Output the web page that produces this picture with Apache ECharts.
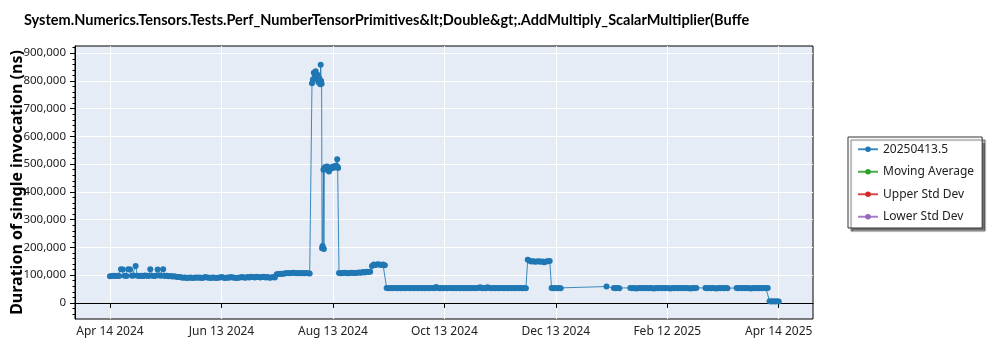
<!DOCTYPE html>
<html>
<head>
<meta charset="utf-8">
<script src="https://cdn.jsdelivr.net/npm/echarts@6/dist/echarts.min.js"></script>
<style>
html,body{margin:0;padding:0;background:#fff;}
#chart{width:1000px;height:350px;}
</style>
</head>
<body>
<div id="chart"></div>
<script>
const dates = [
'2024-04-14','2024-04-15','2024-04-16','2024-04-17','2024-04-18','2024-04-19','2024-04-20','2024-04-21','2024-04-22','2024-04-23','2024-04-24','2024-04-25','2024-04-26','2024-04-27','2024-04-28','2024-04-29','2024-04-30',
'2024-05-01','2024-05-02','2024-05-03','2024-05-04','2024-05-05','2024-05-06','2024-05-07','2024-05-08','2024-05-09','2024-05-10','2024-05-11','2024-05-12','2024-05-13','2024-05-14','2024-05-15','2024-05-16','2024-05-17','2024-05-18','2024-05-19','2024-05-20','2024-05-21','2024-05-22','2024-05-23','2024-05-24','2024-05-25','2024-05-26','2024-05-27','2024-05-28','2024-05-29','2024-05-30','2024-05-31',
'2024-06-01','2024-06-02','2024-06-03','2024-06-04','2024-06-05','2024-06-06','2024-06-07','2024-06-08','2024-06-09','2024-06-10','2024-06-11','2024-06-12','2024-06-13','2024-06-14','2024-06-15','2024-06-16','2024-06-17','2024-06-18','2024-06-19','2024-06-20','2024-06-21','2024-06-22','2024-06-23','2024-06-24','2024-06-25','2024-06-26','2024-06-27','2024-06-28','2024-06-29','2024-06-30',
'2024-07-01','2024-07-02','2024-07-03','2024-07-04','2024-07-05','2024-07-06','2024-07-07','2024-07-08','2024-07-09','2024-07-10','2024-07-11','2024-07-12','2024-07-13','2024-07-14','2024-07-15','2024-07-16','2024-07-17','2024-07-18','2024-07-19','2024-07-20','2024-07-21','2024-07-22','2024-07-23','2024-07-24','2024-07-25','2024-07-26','2024-07-27','2024-07-28','2024-07-29','2024-07-30','2024-07-31',
'2024-08-01',
'2024-08-02 06:00','2024-08-02 18:00','2024-08-03 06:00','2024-08-03 18:00','2024-08-04 06:00','2024-08-04 18:00','2024-08-05 06:00','2024-08-05 18:00','2024-08-06 06:00','2024-08-06 18:00','2024-08-07 00:00','2024-08-07 06:00','2024-08-07 12:00',
'2024-08-07 18:00','2024-08-08 00:00','2024-08-08 06:00','2024-08-08 12:00','2024-08-08 18:00',
'2024-08-09 00:00','2024-08-09 12:00','2024-08-10 00:00','2024-08-10 12:00','2024-08-11 00:00','2024-08-11 12:00','2024-08-12 00:00','2024-08-12 12:00','2024-08-13 00:00','2024-08-13 12:00','2024-08-14 00:00','2024-08-14 12:00','2024-08-15 00:00','2024-08-15 12:00','2024-08-16 00:00','2024-08-16 06:00','2024-08-16 12:00',
'2024-08-17','2024-08-18','2024-08-19','2024-08-20','2024-08-21','2024-08-22','2024-08-23','2024-08-24','2024-08-25','2024-08-26','2024-08-27','2024-08-28','2024-08-29','2024-08-30','2024-08-31',
'2024-09-01','2024-09-02','2024-09-03',
'2024-09-04','2024-09-05','2024-09-06','2024-09-07','2024-09-08','2024-09-09','2024-09-10','2024-09-11',
'2024-09-12','2024-09-13','2024-09-14','2024-09-15','2024-09-16','2024-09-17','2024-09-18','2024-09-19','2024-09-20','2024-09-21','2024-09-22','2024-09-23','2024-09-24','2024-09-25','2024-09-26','2024-09-27','2024-09-28','2024-09-29','2024-09-30',
'2024-10-01','2024-10-02','2024-10-03','2024-10-04','2024-10-05','2024-10-06','2024-10-07','2024-10-08','2024-10-09','2024-10-10','2024-10-11','2024-10-12','2024-10-13','2024-10-14','2024-10-15','2024-10-16','2024-10-17','2024-10-18','2024-10-19','2024-10-20','2024-10-21','2024-10-22','2024-10-23','2024-10-24','2024-10-25','2024-10-26','2024-10-27','2024-10-28','2024-10-29','2024-10-30','2024-10-31',
'2024-11-01','2024-11-02','2024-11-03','2024-11-04','2024-11-05','2024-11-06','2024-11-07','2024-11-08','2024-11-09','2024-11-10','2024-11-11','2024-11-12','2024-11-13','2024-11-14','2024-11-15','2024-11-16','2024-11-17','2024-11-18','2024-11-19','2024-11-20','2024-11-21','2024-11-22','2024-11-23','2024-11-24','2024-11-25','2024-11-26','2024-11-27',
'2024-11-28','2024-11-29','2024-11-30',
'2024-12-01','2024-12-02','2024-12-03','2024-12-04','2024-12-05','2024-12-06','2024-12-07','2024-12-08','2024-12-09','2024-12-10',
'2024-12-11','2024-12-12','2024-12-13','2024-12-14','2024-12-15','2024-12-16',
'2025-01-10',
'2025-01-14','2025-01-15','2025-01-16','2025-01-17',
'2025-01-23','2025-01-24','2025-01-25','2025-01-26','2025-01-27','2025-01-28','2025-01-29','2025-01-30','2025-01-31',
'2025-02-01','2025-02-02','2025-02-03','2025-02-04','2025-02-05','2025-02-06','2025-02-07','2025-02-08','2025-02-09','2025-02-10','2025-02-11','2025-02-12','2025-02-13','2025-02-14','2025-02-15','2025-02-16','2025-02-17','2025-02-18','2025-02-19','2025-02-20','2025-02-21','2025-02-22','2025-02-23','2025-02-24','2025-02-25','2025-02-26','2025-02-27','2025-02-28',
'2025-03-05','2025-03-06','2025-03-07','2025-03-08','2025-03-09','2025-03-10','2025-03-11','2025-03-12','2025-03-13','2025-03-14','2025-03-15','2025-03-16','2025-03-17',
'2025-03-22','2025-03-23','2025-03-24','2025-03-25','2025-03-26','2025-03-27','2025-03-28','2025-03-29','2025-03-30','2025-03-31',
'2025-04-01','2025-04-02','2025-04-03','2025-04-04','2025-04-05','2025-04-06','2025-04-07','2025-04-08',
'2025-04-09','2025-04-10','2025-04-11','2025-04-12','2025-04-13','2025-04-14'
];

const values = [
96000,97000,98000,97000,98000,97000,121000,120000,98000,97000,121000,120000,98000,99000,133000,98000,97000,
98000,97000,99000,98000,97000,121000,98000,97000,98000,120000,99000,98000,121000,97000,98000,96000,97000,95000,96000,94000,93000,93000,92000,91000,92000,90000,91000,92000,90000,91000,92000,
91000,92000,90000,91000,93000,92000,91000,90000,92000,91000,90000,91000,92000,93000,91000,90000,92000,91000,93000,92000,91000,90000,91000,92000,93000,92000,91000,93000,92000,94000,
93000,92000,94000,93000,92000,93000,94000,92000,93000,91000,92000,93000,92000,103000,104000,105000,104000,106000,107000,108000,107000,108000,109000,108000,107000,108000,107000,108000,107000,108000,107000,
106000,
792000,805000,830000,815000,835000,808000,822000,795000,810000,788000,858000,800000,790000,
197000,205000,200000,480000,194000,
486000,490000,484000,492000,478000,474000,482000,488000,485000,491000,487000,493000,489000,495000,518000,490000,486000,
108000,107000,108000,109000,108000,107000,108000,109000,108000,108000,109000,110000,109000,111000,110000,
112000,111000,112000,
133000,138000,137000,139000,138000,137000,138000,136000,
54000,53000,54000,53000,54000,54000,53000,54000,53000,54000,53000,54000,54000,53000,54000,53000,54000,53000,54000,
53000,54000,53000,54000,53000,54000,54000,53000,57000,54000,53000,54000,53000,54000,53000,54000,54000,53000,54000,53000,54000,53000,54000,53000,54000,53000,54000,53000,54000,53000,54000,
54000,56000,53000,54000,53000,56000,54000,53000,54000,53000,54000,53000,54000,54000,53000,54000,53000,54000,53000,54000,53000,54000,53000,54000,53000,54000,53000,
156000,152000,149000,
150000,148000,149000,150000,148000,149000,147000,149000,150000,151000,
54000,53000,54000,53000,54000,53000,
59000,
54000,53000,54000,53000,
54000,53000,54000,52000,53000,54000,53000,54000,53000,
54000,53000,54000,53000,52000,54000,53000,54000,53000,54000,53000,54000,53000,52000,54000,53000,54000,53000,54000,53000,54000,53000,54000,53000,52000,54000,53000,54000,
54000,53000,54000,53000,54000,53000,52000,54000,53000,54000,53000,54000,53000,
54000,53000,54000,53000,54000,53000,54000,53000,52000,54000,
53000,54000,53000,54000,53000,54000,53000,54000,
6000,5000,6000,5000,6000,5000
];

const tickDates = ['2024-04-14 00:00','2024-06-13 20:00','2024-08-13 16:00','2024-10-13 12:00','2024-12-13 08:00','2025-02-12 04:00','2025-04-14 00:00'];
const tickLabels = ['Apr 14 2024','Jun 13 2024','Aug 13 2024','Oct 13 2024','Dec 13 2024','Feb 12 2025','Apr 14 2025'];
const yTickValues = [0,100000,200000,300000,400000,500000,600000,700000,800000,900000];
const yMinorStep = 20000;
const xRange = ['2024-03-25 21:36','2025-05-02 16:48'];
const yRange = [-58000, 926000];
const seriesNames = ['20250413.5','Moving Average','Upper Std Dev','Lower Std Dev'];
const seriesColors = ['#1f77b4','#2ca02c','#d62728','#9467bd'];
const titleText = 'System.Numerics.Tensors.Tests.Perf_NumberTensorPrimitives&lt;Double&gt;.AddMultiply_ScalarMultiplier(Buffe';
const yAxisTitle = 'Duration of single invocation (ns)';

function toMs(s){
  const parts = s.split(' ');
  const d = parts[0].split('-').map(Number);
  const t = (parts[1] || '00:00').split(':').map(Number);
  return Date.UTC(d[0], d[1]-1, d[2], t[0], t[1]);
}

const tickMs = tickDates.map(toMs);
const minorTicks = [];
for (let v = -40000; v <= 920000; v += yMinorStep) { if (v % 100000 !== 0) minorTicks.push(v); }

const FONT = "'Noto Sans', 'Open Sans', sans-serif";
const TITLE_FONT = "Lato, 'Noto Sans', sans-serif";

// fit the title to its width in the reference (about 726px)
const mctx = document.createElement('canvas').getContext('2d');
mctx.font = "bold 16px " + TITLE_FONT;
const tw = mctx.measureText(titleText).width;
const titleSize = Math.max(12, Math.min(18, 16 * 726 / tw));

const chart = echarts.init(document.getElementById('chart'), null, {renderer:'canvas'});

const series = seriesNames.map((name, i) => ({
  name: name,
  type: 'line',
  data: i === 0 ? dates.map((d, j) => [toMs(d), values[j]]) : [],
  symbol: 'circle',
  symbolSize: 6,
  showSymbol: true,
  showAllSymbol: true,
  color: seriesColors[i],
  itemStyle: {color: seriesColors[i]},
  lineStyle: {color: seriesColors[i], width: 1, opacity: 0.85},
  emphasis: {disabled: true},
  animation: false,
  z: 3
}));

chart.setOption({
  animation: false,
  backgroundColor: '#ffffff',
  textStyle: {fontFamily: FONT},
  title: {
    text: titleText,
    left: 19, top: 8,
    textStyle: {fontFamily: TITLE_FONT, fontSize: titleSize, fontWeight: 'bold', color: '#000'}
  },
  grid: {
    left: 75, right: 187, top: 46, bottom: 31,
    show: true, backgroundColor: '#E5ECF6', borderColor: '#000', borderWidth: 1,
    containLabel: false,
    outerBoundsMode: 'none'
  },
  legend: {
    orient: 'vertical',
    left: 848, top: 137,
    data: seriesNames,
    itemWidth: 20, itemHeight: 7, itemGap: 8,
    padding: [5, 8, 4, 9],
    backgroundColor: '#ffffff',
    borderColor: '#333', borderWidth: 1, borderRadius: 0,
    shadowColor: 'rgba(0,0,0,0.55)', shadowBlur: 1, shadowOffsetX: 3, shadowOffsetY: 3,
    textStyle: {fontFamily: FONT, fontSize: 12, color: '#222', lineHeight: 14.5},
    selectedMode: false
  },
  xAxis: {
    type: 'value',
    min: toMs(xRange[0]), max: toMs(xRange[1]),
    axisLine: {show: true, lineStyle: {color: '#000', width: 1}},
    axisTick: {show: true, length: 5, customValues: tickMs, lineStyle: {color: '#000'}},
    axisLabel: {
      show: true, customValues: tickMs, margin: 7,
      fontFamily: FONT, fontSize: 12, color: '#222',
      formatter: function(v){
        for (let i = 0; i < tickMs.length; i++) { if (Math.abs(tickMs[i]-v) < 60000) return tickLabels[i]; }
        return '';
      }
    },
    splitLine: {show: true, lineStyle: {color: '#ffffff', width: 1}},
    minorTick: {show: false}
  },
  yAxis: [{
    type: 'value',
    min: yRange[0], max: yRange[1],
    name: yAxisTitle, nameLocation: 'middle', nameGap: 50, nameMoveOverlap: false,
    nameTextStyle: {fontFamily: FONT, fontSize: 16, fontWeight: 'bold', color: '#000'},
    axisLine: {show: true, lineStyle: {color: '#000', width: 1}},
    axisTick: {show: true, length: 5, customValues: yTickValues, lineStyle: {color: '#000'}},
    axisLabel: {
      show: true, customValues: yTickValues, margin: 9,
      fontFamily: FONT, fontSize: 11.5, color: '#222',
      formatter: function(v){ return v.toLocaleString('en-US'); }
    },
    splitLine: {show: true, lineStyle: {color: '#ffffff', width: 1}}
  }, {
    type: 'value',
    position: 'left', offset: 0,
    min: yRange[0], max: yRange[1],
    axisLine: {show: false},
    axisTick: {show: true, length: 2.5, customValues: minorTicks, lineStyle: {color: '#000'}},
    axisLabel: {show: false},
    splitLine: {show: false}
  }],
  series: series
});
</script>
</body>
</html>
